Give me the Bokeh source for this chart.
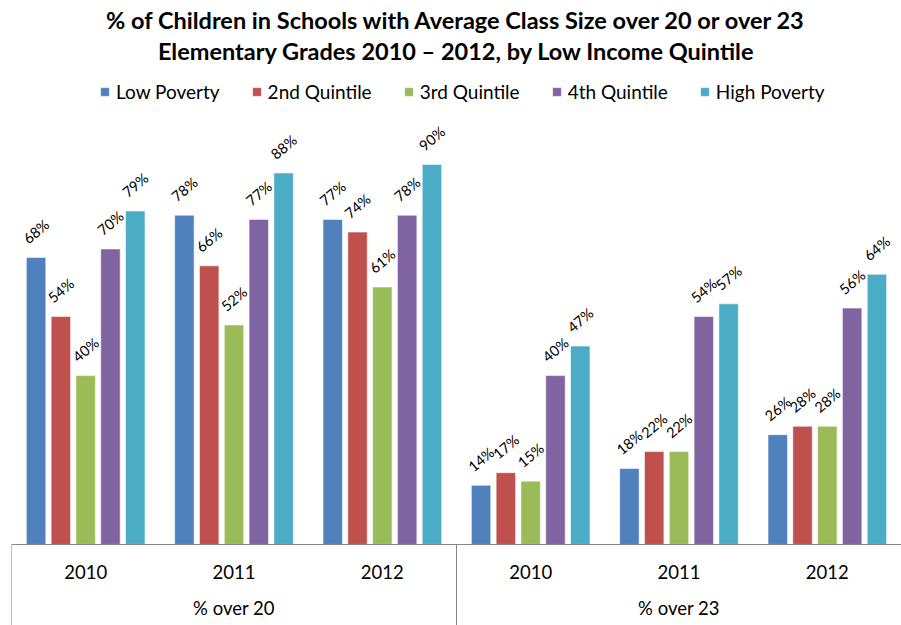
import math
from bokeh.plotting import figure
from bokeh.models import (ColumnDataSource, FactorRange, Range1d, Legend, LegendItem, Title)
from bokeh.transform import dodge
from bokeh.core.properties import value
from bokeh.embed import file_html
from bokeh.resources import INLINE

# ---------------- data ----------------
groups = ["% over 20", "% over 23"]
years = ["2010", "2011", "2012"]
series = ["Low Poverty", "2nd Quintile", "3rd Quintile", "4th Quintile", "High Poverty"]
colors = ["#4F81BD", "#C0504D", "#9BBB59", "#8064A2", "#4BACC6"]

low_poverty = [68, 78, 77, 14, 18, 26]
second_quintile = [54, 66, 74, 17, 22, 28]
third_quintile = [40, 52, 61, 15, 22, 28]
fourth_quintile = [70, 77, 78, 40, 54, 56]
high_poverty = [79, 88, 90, 47, 57, 64]

series_values = [low_poverty, second_quintile, third_quintile, fourth_quintile, high_poverty]
title_line1 = "% of Children in Schools with Average Class Size over 20 or over 23"
title_line2 = "Elementary Grades 2010 \u2013 2012, by Low Income Quintile"

# ---------------- build ----------------
factors = [(g, y) for g in groups for y in years]

FONT = "Lato"
AXIS_GRAY = "#868686"
Y_START = -19.2
Y_END = 113.7

p = figure(width=901, height=625, output_backend="svg", toolbar_location=None,
           x_range=FactorRange(*factors, factor_padding=0, group_padding=0,
                               subgroup_padding=0, range_padding=0),
           y_range=Range1d(Y_START, Y_END), y_axis_location=None,
           min_border_left=11, min_border_right=0, min_border_top=64,
           min_border_bottom=0)

p.background_fill_color = "white"
p.border_fill_color = "white"
p.outline_line_color = None
p.xgrid.visible = False
p.ygrid.visible = False

data = {"x": factors}
for name, vals in zip(series, series_values):
    data[name] = vals
    data[name + "_lbl"] = [f"{v}%" for v in vals]
src = ColumnDataSource(data)

pitch = 0.1672
bar_w = 0.131
items = []
for i, (name, col) in enumerate(zip(series, colors)):
    off = (i - 2) * pitch
    r = p.vbar(x=dodge("x", off, range=p.x_range), top=name, bottom=0, width=bar_w,
               source=src, fill_color=col, line_color="white", line_alpha=0.55,
               line_width=1)
    p.text(x=dodge("x", off, range=p.x_range), y=name, text=name + "_lbl", source=src,
           angle=math.radians(40), text_align="center", text_baseline="middle",
           y_offset=-26, text_font=value(FONT), text_font_size="14.5px",
           text_color="black")
    items.append(LegendItem(label=name, renderers=[r]))

# group separators (left edge of each group), running down through the axis area
sep_src = ColumnDataSource({"x": [(g, years[0]) for g in groups]})
p.segment(x0=dodge("x", -0.5, range=p.x_range), y0=0,
          x1=dodge("x", -0.5, range=p.x_range), y1=Y_START,
          source=sep_src, line_color=AXIS_GRAY, line_width=1)

legend = Legend(items=items, orientation="horizontal", location=(88, 522),
                glyph_width=11, glyph_height=11, label_standoff=6, spacing=31,
                padding=0, margin=0, border_line_color=None,
                background_fill_alpha=0, label_text_font=FONT,
                label_text_font_size="19px", label_text_color="black")
p.add_layout(legend, "center")

ax = p.xaxis[0]
ax.fixed_location = 0
ax.axis_line_color = AXIS_GRAY
ax.axis_line_width = 1
ax.major_tick_line_color = None
ax.minor_tick_line_color = None
ax.major_label_standoff = 15
ax.major_label_text_font = FONT
ax.major_label_text_font_size = "18.5px"
ax.major_label_text_color = "black"
ax.group_text_font = FONT
ax.group_text_font_size = "18.5px"
ax.group_text_color = "black"
ax.group_text_font_style = "normal"
ax.separator_line_color = None

p.title.text = title_line1
p.title.align = "center"
p.title.text_font = FONT
p.title.text_font_style = "bold"
p.title.text_font_size = "23.5px"
p.title.text_color = "black"
p.title.standoff = 1
p.add_layout(Title(text=title_line2, align="center", text_font=FONT,
                   text_font_style="bold", text_font_size="23.5px",
                   text_color="black", standoff=0), "above")

open("out.html", "w").write(file_html(p, INLINE))
